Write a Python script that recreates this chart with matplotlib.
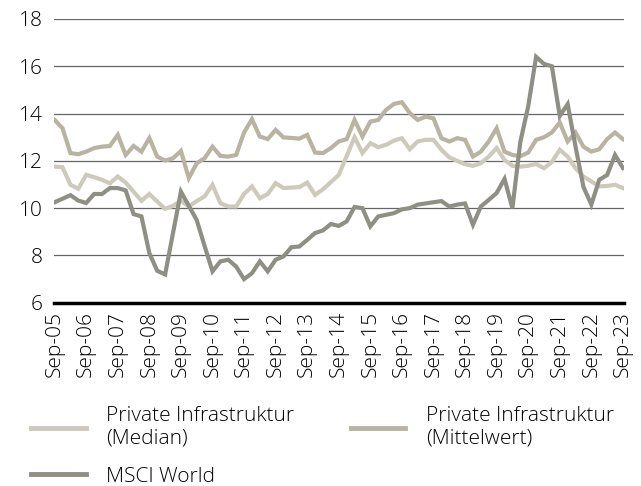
import matplotlib
matplotlib.use("Agg")
import matplotlib.pyplot as plt
from matplotlib.lines import Line2D

# quarterly values, Sep-05 .. Sep-23
median = [11.76, 11.73, 10.99, 10.82, 11.41, 11.31, 11.2, 11.05, 11.34, 11.08,
          10.7, 10.31, 10.6, 10.28, 9.97, 10.1, 10.31, 10.07, 10.3, 10.5,
          10.99, 10.21, 10.07, 10.07, 10.6, 10.92, 10.42, 10.6, 11.06, 10.85,
          10.87, 10.89, 11.08, 10.56, 10.8, 11.1, 11.41, 12.2, 13.0, 12.33,
          12.75, 12.58, 12.68, 12.86, 12.96, 12.49, 12.82, 12.89, 12.89, 12.47,
          12.15, 12.0, 11.86, 11.79, 11.9, 12.18, 12.54, 12.04, 11.79, 11.76,
          11.79, 11.87, 11.69, 11.95, 12.47, 12.18, 11.69, 11.34, 11.13, 10.92,
          10.94, 10.99, 10.85]
mittelwert = [13.73, 13.38, 12.33, 12.28, 12.39, 12.54, 12.6, 12.63, 13.1, 12.25,
              12.63, 12.39, 12.96, 12.18, 12.01, 12.11, 12.42, 11.27, 11.9, 12.11,
              12.6, 12.21, 12.18, 12.25, 13.2, 13.76, 13.03, 12.92, 13.31, 12.99,
              12.97, 12.94, 13.1, 12.35, 12.33, 12.54, 12.82, 12.92, 13.73, 13.03,
              13.66, 13.73, 14.16, 14.41, 14.48, 14.02, 13.73, 13.87, 13.8, 12.96,
              12.82, 12.96, 12.89, 12.18, 12.39, 12.82, 13.38, 12.39, 12.25, 12.2,
              12.35, 12.89, 13.0, 13.2, 13.62, 12.82, 13.2, 12.6, 12.39, 12.49,
              12.92, 13.2, 12.92]
msci = [10.25, 10.4, 10.55, 10.32, 10.22, 10.6, 10.6, 10.85, 10.85, 10.75,
        9.75, 9.65, 8.1, 7.35, 7.2, 8.95, 10.7, 10.1, 9.5, 8.4,
        7.33, 7.75, 7.82, 7.53, 7.0, 7.25, 7.75, 7.33, 7.82, 7.96,
        8.35, 8.38, 8.66, 8.95, 9.06, 9.33, 9.25, 9.44, 10.05, 10.0,
        9.23, 9.65, 9.72, 9.79, 9.95, 10.0, 10.15, 10.2, 10.25, 10.3,
        10.07, 10.15, 10.2, 9.3, 10.07, 10.35, 10.64, 11.24, 10.0, 12.8,
        14.3, 16.4, 16.1, 16.0, 13.9, 14.4, 12.6, 10.9, 10.15, 11.2,
        11.4, 12.25, 11.7]
tick_labels = ["Sep-%02d" % y for y in range(5, 24)]

c_median, c_mittel, c_msci = "#cdcabc", "#b9b3a2", "#8f8f85"
plt.rcParams["font.family"] = ["Open Sans", "DejaVu Sans"]

fig = plt.figure(figsize=(6.41, 4.86), dpi=100)
ax = fig.add_axes([0.084, 0.377, 0.889, 0.584])

x = list(range(len(msci)))
ax.plot(x, median, color=c_median, lw=3, solid_joinstyle="miter")
ax.plot(x, mittelwert, color=c_mittel, lw=3, solid_joinstyle="miter")
ax.plot(x, msci, color=c_msci, lw=3, solid_joinstyle="miter")

ax.set_ylim(6, 18)
ax.set_xlim(-0.1, 72.1)
ax.set_yticks(range(6, 19, 2))
ax.set_xticks(range(0, 73, 4))
ax.set_xticklabels(tick_labels, rotation=90, fontsize=15, fontweight="light")
for t in ax.get_yticklabels():
    t.set_fontsize(15)
    t.set_fontweight("light")
ax.tick_params(length=0, pad=8)
ax.tick_params(axis="x", pad=6)
ax.grid(axis="y", color="#666666", lw=0.9)
ax.set_axisbelow(True)
for s in ("top", "right", "left"):
    ax.spines[s].set_visible(False)
ax.spines["bottom"].set_linewidth(2.5)
ax.spines["bottom"].set_color("black")

handles = [Line2D([], [], color=c_median, lw=3.5),
           Line2D([], [], color=c_msci, lw=3.5),
           Line2D([], [], color=c_mittel, lw=3.5)]
labels = ["Private Infrastruktur\n(Median)", "MSCI World",
          "Private Infrastruktur\n(Mittelwert)"]
fig.legend(handles, labels, ncol=2, loc="upper left", bbox_to_anchor=(0.049, 0.165),
           frameon=False, prop={"size": 15, "weight": "light"},
           handlelength=2.6, handletextpad=1.0, columnspacing=2.7,
           labelspacing=0.85, borderpad=0, borderaxespad=0)

fig.savefig("out.png", dpi=100)
